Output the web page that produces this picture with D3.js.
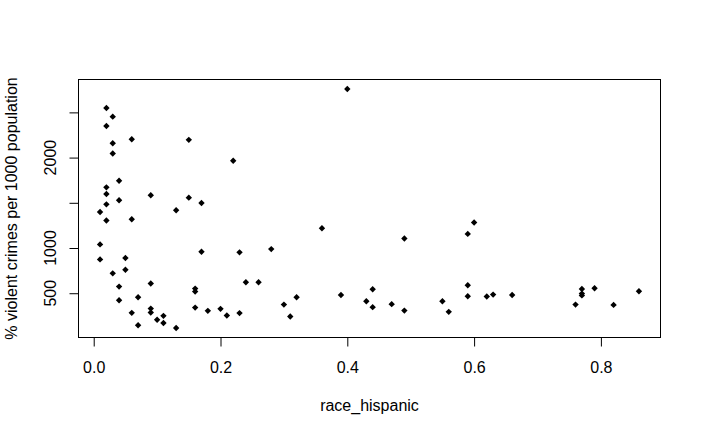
<!DOCTYPE html>
<html>
<head>
<meta charset="utf-8">
<script src="https://cdn.jsdelivr.net/npm/d3@7"></script>
<style>
  html, body { margin: 0; padding: 0; background: #fff; }
  svg text { font-family: "Liberation Sans", Arial, Helvetica, sans-serif; fill: #000; }
</style>
</head>
<body>
<svg id="chart" width="701" height="436"></svg>
<script>
// ---- data ----
const hispanic = [
  0.02, 0.03, 0.02, 0.03, 0.06, 0.15, 0.03, 0.22, 0.04, 0.02,
  0.02, 0.04, 0.09, 0.15, 0.17, 0.02, 0.13, 0.01, 0.02, 0.06,
  0.01, 0.01, 0.17, 0.23, 0.28, 0.05, 0.03, 0.05, 0.04, 0.09,
  0.16, 0.16, 0.04, 0.07, 0.06, 0.09, 0.09, 0.07, 0.10, 0.11,
  0.11, 0.13, 0.16, 0.18, 0.20, 0.21, 0.23, 0.24, 0.26, 0.36,
  0.30, 0.31, 0.32, 0.39, 0.43, 0.44, 0.44, 0.47, 0.49, 0.49,
  0.55, 0.56, 0.59, 0.60, 0.59, 0.59, 0.62, 0.63, 0.66, 0.76,
  0.77, 0.77, 0.77, 0.79, 0.82, 0.86, 0.40
];
const violentCrimes = [
  2548, 2453, 2350, 2159, 2203, 2196, 2045, 1965, 1744, 1671,
  1597, 1528, 1583, 1557, 1498, 1483, 1417, 1399, 1304, 1318,
  1040, 874, 958, 952, 988, 889, 720, 760, 573, 608,
  551, 518, 423, 456, 283, 330, 286, 145, 206, 250,
  171, 116, 341, 305, 327, 253, 280, 621, 621, 1219,
  374, 242, 456, 481, 412, 544, 346, 379, 1106, 308,
  412, 294, 1156, 1282, 588, 467, 463, 485, 481, 374,
  547, 496, 476, 555, 371, 522, 2758
];
const xTicks = [0, 0.2, 0.4, 0.6, 0.8];
const xTickLabels = ["0.0", "0.2", "0.4", "0.6", "0.8"];
const yTicks = [500, 1000, 1500, 2000, 2500];
const yTickLabels = ["500", "1000", "", "2000", ""];
const xLabel = "race_hispanic";
const yLabel = "% violent crimes per 1000 population";

// ---- layout ----
const plotLeft = 78.5, plotRight = 660.5, plotTop = 79.5, plotBottom = 337.5;
const svg = d3.select("#chart");

// R-style 4% range extension
function padded(vals) {
  const [lo, hi] = d3.extent(vals);
  const p = (hi - lo) * 0.04;
  return [lo - p, hi + p];
}
const x = d3.scaleLinear().domain(padded(hispanic)).range([plotLeft, plotRight]);
const y = d3.scaleLinear().domain(padded(violentCrimes)).range([plotBottom, plotTop]);

// box
svg.append("rect")
  .attr("x", plotLeft).attr("y", plotTop)
  .attr("width", plotRight - plotLeft).attr("height", plotBottom - plotTop)
  .attr("fill", "none").attr("stroke", "#000").attr("stroke-width", 1);

// x axis (R-like: line from first to last tick, ticks outward)
const xAxis = d3.axisBottom(x).tickValues(xTicks)
  .tickFormat((d, i) => xTickLabels[i]).tickSize(9).tickSizeOuter(0);
const gx = svg.append("g").attr("transform", `translate(0,${plotBottom})`).call(xAxis);
gx.select(".domain").attr("d", `M${x(xTicks[0])},0H${x(xTicks[xTicks.length - 1])}`).attr("stroke", "#000");
gx.selectAll(".tick line").attr("stroke", "#000");
gx.selectAll(".tick text").attr("font-size", 16).attr("font-family", null).attr("fill", "#000")
  .attr("dy", null).attr("y", 35);

// y axis
const yAxis = d3.axisLeft(y).tickValues(yTicks).tickFormat("").tickSize(9).tickSizeOuter(0);
const gy = svg.append("g").attr("transform", `translate(${plotLeft},0)`).call(yAxis);
gy.select(".domain").attr("d", `M0,${y(yTicks[0])}V${y(yTicks[yTicks.length - 1])}`).attr("stroke", "#000");
gy.selectAll(".tick line").attr("stroke", "#000");

// rotated y tick labels (R default las=0)
svg.append("g").selectAll("text")
  .data(yTicks.map((v, i) => ({ v, label: yTickLabels[i] })).filter(d => d.label))
  .join("text")
  .attr("transform", d => `translate(56,${y(d.v)}) rotate(-90)`)
  .attr("text-anchor", "middle")
  .attr("font-size", 16)
  .text(d => d.label);

// axis titles
svg.append("text")
  .attr("x", (plotLeft + plotRight) / 2).attr("y", 411)
  .attr("text-anchor", "middle").attr("font-size", 16)
  .text(xLabel);
svg.append("text")
  .attr("transform", `translate(17,${(plotTop + plotBottom) / 2}) rotate(-90)`)
  .attr("text-anchor", "middle").attr("font-size", 16)
  .text(yLabel);

// points: filled diamonds (pch 18)
const r = 3.2;
svg.append("g").selectAll("path")
  .data(hispanic.map((h, i) => [h, violentCrimes[i]]))
  .join("path")
  .attr("transform", d => `translate(${x(d[0])},${y(d[1])})`)
  .attr("d", `M0,${-r}L${r},0L0,${r}L${-r},0Z`)
  .attr("fill", "#000");
</script>
</body>
</html>
